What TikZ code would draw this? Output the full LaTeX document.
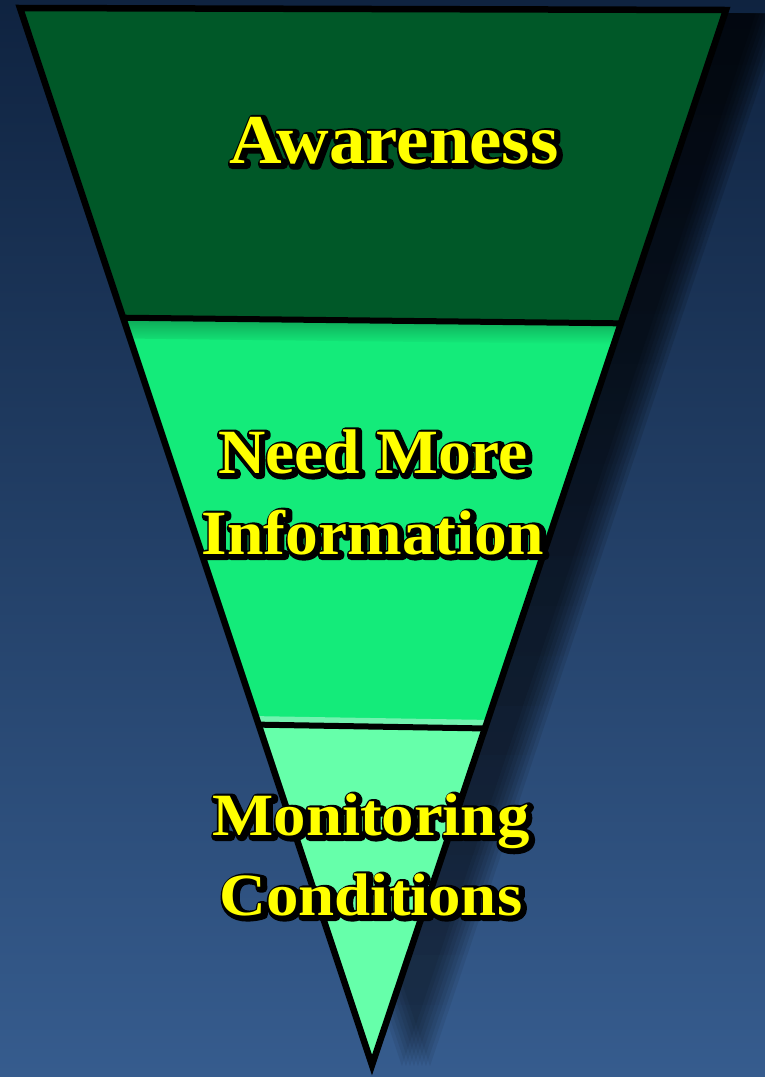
\documentclass[tikz,border=0pt]{standalone}
\usepackage{fontspec}
\setmainfont{Liberation Serif}
\usetikzlibrary{calc,fadings}

\definecolor{bgtop}{RGB}{15,35,64}
\definecolor{bgbottom}{RGB}{54,92,142}
\definecolor{awaregreen}{RGB}{0,88,40}
\definecolor{needgreen}{RGB}{20,235,122}
\definecolor{monitorgreen}{RGB}{102,255,170}
\definecolor{labelyellow}{RGB}{255,255,0}

\tikzfading[name=shadowfade, top color=transparent!10, bottom color=transparent!60]

\pgfdeclarelayer{back}
\pgfdeclarelayer{halo}
\pgfsetlayers{back,halo,main}

\tikzset{
  band/.style={draw=black, line width=6.5pt, line join=miter},
  divider/.style={draw=black, line width=6pt},
  lbl/.style={text=labelyellow, inner sep=0pt, text height=52pt, text depth=16pt},
  awarefont/.style={lbl, font=\bfseries\fontsize{70}{80}\selectfont, xscale=1.04},
  needfont/.style={lbl, font=\bfseries\fontsize{63}{80}\selectfont, xscale=1.04},
  monitorfont/.style={lbl, font=\bfseries\fontsize{60}{80}\selectfont, xscale=1.08},
}

% stroked (outlined) text for the black glow behind a label
\newcommand\outlined[1]{\special{pdf:literal direct 2 Tr 8 w 1 j 1 J}#1\special{pdf:literal direct 0 Tr}}
\newcommand\glowtext[3]{%
  \begin{pgfonlayer}{halo}
    \node[#2, text=black] at ($(#1.center)+(2,2)$) {\outlined{#3}};
  \end{pgfonlayer}}

\begin{document}
\begin{tikzpicture}[x=1pt, y=-1pt]

  \useasboundingbox (0,0) rectangle (765,1077);

  \coordinate (TL) at (20,8);
  \coordinate (TR) at (726,10);
  \coordinate (TIP) at (372,1065);

  \coordinate (L1) at ($(TL)!0.293!(TIP)$);
  \coordinate (R1) at ($(TR)!0.297!(TIP)$);
  \coordinate (L2) at ($(TL)!0.678!(TIP)$);
  \coordinate (R2) at ($(TR)!0.681!(TIP)$);

  \begin{pgfonlayer}{back}
    \shade[top color=bgtop, bottom color=bgbottom] (0,0) rectangle (765,1077);

    %% soft shadow
    \foreach \dx in {30,34,...,58}
      \fill[black, fill opacity=0.17, path fading=shadowfade]
        ($(TL)+(\dx,0)$) -- ($(TR)+(\dx,0)$) -- ($(TIP)+(\dx,0)$) -- cycle;

    \fill[awaregreen] (TL) -- (TR) -- (R1) -- (L1) -- cycle;
    \fill[needgreen] (L1) -- (R1) -- (R2) -- (L2) -- cycle;
    \fill[monitorgreen] (L2) -- (R2) -- (TIP) -- cycle;

    %% bevel of the middle band
    \shade[top color=needgreen!70!black, bottom color=needgreen]
      (L1) -- (R1) -- ($(R1)!22pt!(TIP)$) -- ($(L1)!22pt!(TIP)$) -- cycle;
    \fill[needgreen!60!white]
      ($(L2)!9pt!(TL)$) -- ($(R2)!9pt!(TR)$) -- (R2) -- (L2) -- cycle;

    \draw[divider] (L1) -- (R1);
    \draw[divider] (L2) -- (R2);
    \draw[band] (TL) -- (TR) -- (TIP) -- cycle;
  \end{pgfonlayer}

  \node (Aware) [awarefont, anchor=base] at (394,163) {Awareness};
  \node (Need) [needfont, anchor=base] at (373,473) {Need More};
  \node (Info) [needfont, node distance=81pt, below of=Need] {Information};
  \node (Monitor) [monitorfont, anchor=base] at (371,835) {Monitoring};
  \node (Cond) [monitorfont, node distance=80pt, below of=Monitor] {Conditions};

  \glowtext{Aware}{awarefont}{Awareness}
  \glowtext{Need}{needfont}{Need More}
  \glowtext{Info}{needfont}{Information}
  \glowtext{Monitor}{monitorfont}{Monitoring}
  \glowtext{Cond}{monitorfont}{Conditions}

\end{tikzpicture}
\end{document}
